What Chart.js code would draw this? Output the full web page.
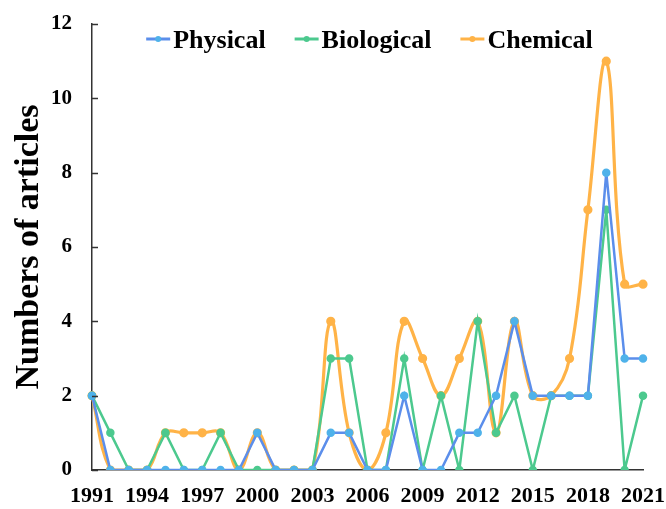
<!DOCTYPE html>
<html>
<head>
<meta charset="utf-8">
<script src="https://cdn.jsdelivr.net/npm/chart.js@4/dist/chart.umd.min.js"></script>
<style>
  html, body { margin: 0; padding: 0; background: #fff; overflow: hidden; }
  #wrap { width: 666px; height: 509px; }
</style>
</head>
<body>
<div id="wrap"><canvas id="chart"></canvas></div>
<script>
// Data
const years = [];
for (let y = 1991; y <= 2021; y++) years.push(String(y));

const physical = [2, 0, 0, 0, 0, 0, 0, 0, 0, 1, 0, 0, 0, 1, 1, 0, 0, 2, 0, 0, 1, 1, 2, 4, 2, 2, 2, 2, 8, 3, 3];
const biological = [2, 1, 0, 0, 1, 0, 0, 1, 0, 0, 0, 0, 0, 3, 3, 0, 0, 3, 0, 2, 0, 4, 1, 2, 0, 2, 2, 2, 7, 0, 2];
const chemical = [2, 0, 0, 0, 1, 1, 1, 1, 0, 1, 0, 0, 0, 4, 1, 0, 1, 4, 3, 2, 3, 4, 1, 4, 2, 2, 3, 7, 11, 5, 5];

const yTicks = [0, 2, 4, 6, 8, 10, 12];

const serif = "'Liberation Serif', 'Times New Roman', serif";

const blue = "#5b8eeb", blueDot = "#4fb2ea";
const green = "#4cc98e";
const orange = "#ffb347";

// legend drawn inside the plot, line-with-dot markers
const insideLegend = {
  id: "insideLegend",
  afterDatasetsDraw(chart) {
    const c = chart.ctx;
    const area = chart.chartArea;
    const dots = [blueDot, green, orange];
    c.save();
    c.font = "bold 26px " + serif;
    const items = chart.data.datasets.map(function (ds, i) {
      return { text: ds.label, line: ds.borderColor, dot: dots[i], w: c.measureText(ds.label).width };
    });
    const markW = 24, markGap = 3, itemGap = 29;
    let total = 0;
    items.forEach(function (it, i) {
      total += markW + markGap + it.w + (i ? itemGap : 0);
    });
    let x = (area.left + area.right) / 2 + 2 - total / 2;
    const yLine = area.top + 15;
    const yText = area.top + 24;
    items.forEach(function (it) {
      c.strokeStyle = it.line;
      c.lineWidth = 3;
      c.beginPath();
      c.moveTo(x, yLine);
      c.lineTo(x + markW, yLine);
      c.stroke();
      c.fillStyle = it.dot;
      c.beginPath();
      c.arc(x + markW / 2, yLine, 3, 0, Math.PI * 2);
      c.fill();
      c.fillStyle = "#000";
      c.textBaseline = "alphabetic";
      c.textAlign = "left";
      c.fillText(it.text, x + markW + markGap, yText);
      x += markW + markGap + it.w + itemGap;
    });
    c.restore();
  },
};

// y tick marks pointing into the plot
const inwardTicks = {
  id: "inwardTicks",
  afterDraw(chart) {
    const c = chart.ctx;
    const scale = chart.scales.y;
    const left = chart.chartArea.left;
    c.save();
    c.strokeStyle = "#333";
    c.lineWidth = 1.5;
    yTicks.forEach(function (v) {
      const py = Math.round(scale.getPixelForValue(v)) + 0.5;
      c.beginPath();
      c.moveTo(left, py);
      c.lineTo(left + 6, py);
      c.stroke();
    });
    c.restore();
  },
};

const ctx = document.getElementById("chart").getContext("2d");
new Chart(ctx, {
  type: "line",
  data: {
    labels: years,
    datasets: [
      {
        label: "Physical",
        data: physical,
        borderColor: blue,
        backgroundColor: blueDot,
        pointBackgroundColor: blueDot,
        pointBorderColor: blueDot,
        borderWidth: 2.5,
        pointRadius: 3,
        tension: 0,
      },
      {
        label: "Biological",
        data: biological,
        borderColor: green,
        backgroundColor: green,
        pointBackgroundColor: green,
        pointBorderColor: green,
        borderWidth: 2.5,
        pointRadius: 3,
        tension: 0,
      },
      {
        label: "Chemical",
        data: chemical,
        borderColor: orange,
        backgroundColor: orange,
        pointBackgroundColor: orange,
        pointBorderColor: orange,
        borderWidth: 3.2,
        pointRadius: 3,
        tension: 0.4,
      },
    ],
  },
  plugins: [insideLegend, inwardTicks],
  options: {
    responsive: true,
    maintainAspectRatio: false,
    animation: false,
    layout: { padding: { left: 4, right: 23, top: 24, bottom: 0 } },
    plugins: {
      tooltip: { enabled: false },
      legend: { display: false },
    },
    scales: {
      x: {
        afterFit: function (scale) {
          scale.height = 39;
          scale.paddingLeft = 0;
          scale.paddingRight = 0;
        },
        grid: { display: false, drawTicks: false },
        border: { display: true, color: "#333", width: 1.5 },
        ticks: {
          autoSkip: false,
          maxRotation: 0,
          padding: 13,
          color: "#000",
          font: { family: serif, size: 22, weight: "bold" },
          callback: function (value, index) {
            return index % 3 === 0 ? years[index] : "";
          },
        },
      },
      y: {
        min: 0,
        max: 12,
        afterFit: function (scale) {
          scale.width = 88;
          scale.paddingTop = 0;
          scale.paddingBottom = 0;
        },
        afterBuildTicks: function (axis) {
          axis.ticks = yTicks.map(function (v) { return { value: v }; });
        },
        grid: { display: false, drawTicks: false },
        border: { display: true, color: "#333", width: 1.5 },
        ticks: {
          padding: 20,
          color: "#000",
          font: { family: serif, size: 21, weight: "bold" },
        },
        title: {
          display: true,
          text: "Numbers of articles",
          color: "#000",
          padding: { top: 5, bottom: 4 },
          font: { family: serif, size: 34, weight: "bold" },
        },
      },
    },
  },
});
</script>
</body>
</html>
